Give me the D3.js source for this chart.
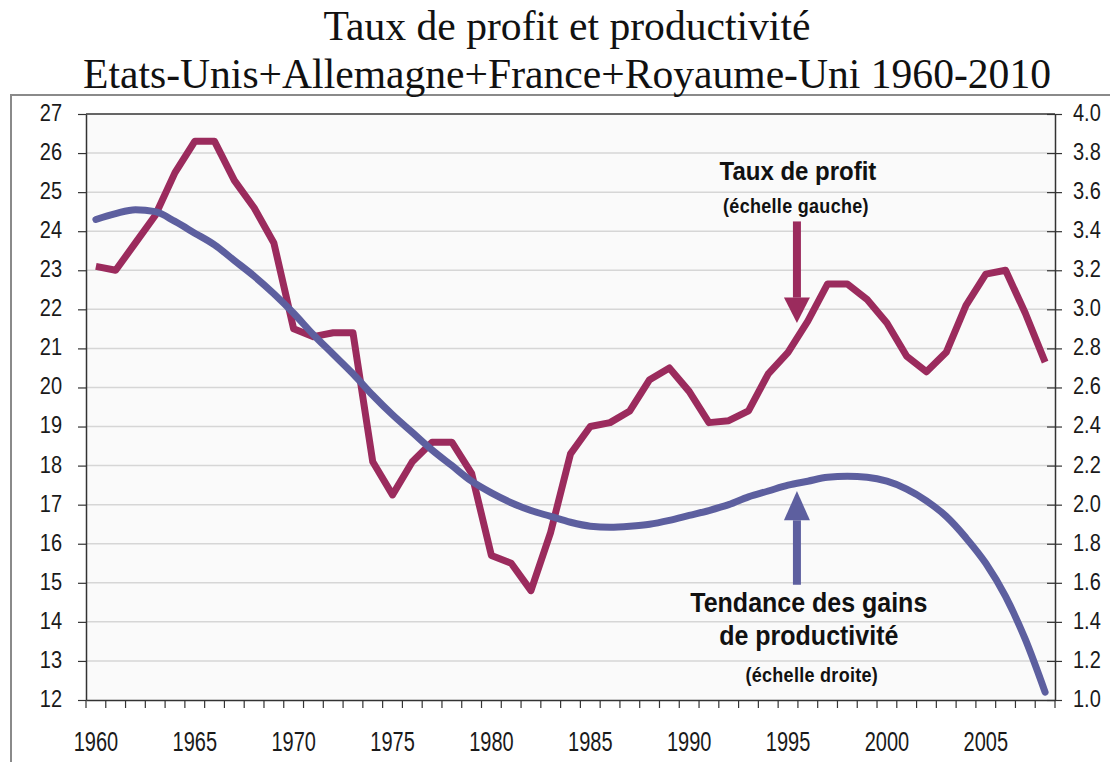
<!DOCTYPE html>
<html>
<head>
<meta charset="utf-8">
<script src="https://cdn.jsdelivr.net/npm/d3@7"></script>
<style>
  body { margin: 0; background: #fff; }
  svg { display: block; }
</style>
</head>
<body>
<svg id="chart" width="1110" height="762"></svg>
<script>
'use strict';

// categories: one point per year
var years = d3.range(1960, 2009);

// taux de profit (échelle gauche)
var profit = [
    23.1, 23.0, 23.7, 24.4, 25.5, 26.3, 26.3, 25.3, 24.6, 23.7,
    21.5, 21.3, 21.4, 21.4, 18.1, 17.25, 18.1, 18.6, 18.6, 17.8,
    15.7, 15.5, 14.8, 16.3, 18.3, 19.0, 19.1, 19.4, 20.2, 20.5,
    19.9, 19.1, 19.15, 19.4, 20.35, 20.9, 21.7, 22.65, 22.65, 22.25,
    21.65, 20.8, 20.4, 20.9, 22.1, 22.9, 23.0, 21.9, 20.65
];

// tendance des gains de productivité (échelle droite)
var productivity = [
    3.46, 3.49, 3.51, 3.50, 3.45, 3.39, 3.33, 3.25, 3.17, 3.08,
    2.98, 2.87, 2.77, 2.67, 2.56, 2.46, 2.37, 2.28, 2.20, 2.12,
    2.06, 2.01, 1.97, 1.94, 1.91, 1.89, 1.885, 1.89, 1.90, 1.92,
    1.945, 1.97, 2.00, 2.04, 2.07, 2.10, 2.12, 2.14, 2.145, 2.14,
    2.12, 2.08, 2.02, 1.94, 1.83, 1.70, 1.53, 1.31, 1.04
];

var leftTicks = d3.range(12, 28);
var rightTicks = d3.range(10, 41, 2).map(function (d) { return d / 10; });
var yearLabels = [1960, 1965, 1970, 1975, 1980, 1985, 1990, 1995, 2000, 2005];

var titleLines = [
    'Taux de profit et productivité',
    'Etats-Unis+Allemagne+France+Royaume-Uni 1960-2010'
];

var RED = '#9b2b5d',
    BLUE = '#5d5f9f';

var svg = d3.select('#chart');
var plot = { left: 86, right: 1055, top: 114, bottom: 700 };

var x = d3.scaleBand().domain(years).range([plot.left, plot.right]);
// continuous year position (centre of each band), used for annotations
var xYear = d3.scaleLinear()
    .domain([years[0], years[years.length - 1]])
    .range([x(years[0]) + x.bandwidth() / 2, x(years[years.length - 1]) + x.bandwidth() / 2]);
var yL = d3.scaleLinear().domain([12, 27]).range([plot.bottom, plot.top]);
var yR = d3.scaleLinear().domain([1, 4]).range([plot.bottom, plot.top]);

// outer frame
svg.append('rect')
    .attr('x', 11).attr('y', 95)
    .attr('width', 1120).attr('height', 700)
    .style('fill', '#fff')
    .style('stroke', '#8a8a8a')
    .style('stroke-width', 2);

// title
svg.append('g').selectAll('text')
    .data(titleLines)
    .enter().append('text')
    .attr('transform', function (d, i) {
        return 'translate(567,' + (40 + i * 48) + ') scale(1.04,1.06)';
    })
    .attr('text-anchor', 'middle')
    .style('font-family', '"Liberation Serif", "DejaVu Serif", serif')
    .style('font-size', '40px')
    .style('fill', '#111')
    .text(function (d) { return d; });

// plot background
svg.append('rect')
    .attr('x', plot.left).attr('y', plot.top)
    .attr('width', plot.right - plot.left).attr('height', plot.bottom - plot.top)
    .style('fill', '#fafafa');

// gridlines
svg.append('g').selectAll('line')
    .data(leftTicks.slice(1, -1))
    .enter().append('line')
    .attr('x1', plot.left).attr('x2', plot.right)
    .attr('y1', yL).attr('y2', yL)
    .style('stroke', '#d6d6d6')
    .style('stroke-width', 1.5);

svg.append('line')
    .attr('x1', plot.left).attr('x2', plot.right)
    .attr('y1', yL(27)).attr('y2', yL(27))
    .style('stroke', '#333')
    .style('stroke-width', 1.5);

function styleAxis(g) {
    g.select('.domain').style('stroke', '#333').style('stroke-width', 1.5);
    g.selectAll('.tick line').style('stroke', '#333').style('stroke-width', 1.2);
    g.selectAll('text')
        .style('font-family', '"Liberation Sans", Arial, sans-serif')
        .style('font-size', '20px')
        .style('fill', '#1a1a1a');
}

// left axis
var lAxis = svg.append('g')
    .attr('transform', 'translate(' + plot.left + ',0)')
    .call(d3.axisLeft(yL).tickValues(leftTicks).tickSize(8).tickPadding(16).tickSizeOuter(0))
    .call(styleAxis);
lAxis.selectAll('.tick text').attr('transform', 'scale(1,1.15)').attr('dy', '0.28em');

// right axis, ticks cross the line
var rAxis = svg.append('g')
    .attr('transform', 'translate(' + plot.right + ',0)')
    .call(d3.axisRight(yR).tickValues(rightTicks).tickFormat(d3.format('.1f')).tickSize(7).tickPadding(11).tickSizeOuter(0))
    .call(styleAxis);
rAxis.selectAll('.tick line').attr('x1', -8);
rAxis.selectAll('.tick text').attr('transform', 'scale(1,1.15)').attr('dy', '0.28em');

// bottom axis: labels every five years, small ticks between categories
var bAxis = svg.append('g')
    .attr('transform', 'translate(0,' + plot.bottom + ')')
    .call(d3.axisBottom(x).tickValues(yearLabels).tickSize(0).tickSizeOuter(0))
    .call(styleAxis);
bAxis.selectAll('.tick text')
    .attr('y', 0).attr('dy', 0)
    .attr('transform', 'translate(0,51) scale(1,1.35)');

var boundaries = years.map(function (d) { return x(d); }).concat([plot.right]);
bAxis.append('g').selectAll('line')
    .data(boundaries)
    .enter().append('line')
    .attr('x1', function (d) { return d; })
    .attr('x2', function (d) { return d; })
    .attr('y1', 0).attr('y2', 8)
    .style('stroke', '#333')
    .style('stroke-width', 1.2);

// series
var profitLine = d3.line()
    .x(function (d, i) { return x(years[i]) + x.bandwidth() / 2; })
    .y(function (d) { return yL(d); });

var prodLine = d3.line()
    .x(function (d, i) { return x(years[i]) + x.bandwidth() / 2; })
    .y(function (d) { return yR(d); })
    .curve(d3.curveMonotoneX);

svg.append('path')
    .datum(profit)
    .attr('d', profitLine)
    .style('fill', 'none')
    .style('stroke', RED)
    .style('stroke-width', 7)
    .style('stroke-linejoin', 'round');

svg.append('path')
    .datum(productivity)
    .attr('d', prodLine)
    .style('fill', 'none')
    .style('stroke', BLUE)
    .style('stroke-width', 7)
    .style('stroke-linecap', 'round');

// annotations (positions in data units)
var arrows = [
    { year: 1995.45, scale: yL, from: 24.25, base: 22.3, tip: 21.65, color: RED },
    { year: 1995.45, scale: yR, from: 1.59, base: 1.92, tip: 2.07, color: BLUE }
];

var notes = [
    { year: 1995.5, scale: yL, value: 25.3, text: 'Taux de profit', size: 24 },
    { year: 1995.4, scale: yL, value: 24.47, text: '(échelle gauche)', size: 18 },
    { year: 1996.05, scale: yR, value: 1.45, text: 'Tendance des gains', size: 25 },
    { year: 1996.05, scale: yR, value: 1.28, text: 'de productivité', size: 25 },
    { year: 1996.2, scale: yR, value: 1.09, text: '(échelle droite)', size: 18 }
];

var ann = svg.append('g');

arrows.forEach(function (a) {
    var cx = xYear(a.year);
    ann.append('line')
        .attr('x1', cx).attr('x2', cx)
        .attr('y1', a.scale(a.from)).attr('y2', a.scale(a.base))
        .style('stroke', a.color)
        .style('stroke-width', 8);
    ann.append('path')
        .attr('d', d3.line()([
            [cx - 13, a.scale(a.base)],
            [cx + 13, a.scale(a.base)],
            [cx, a.scale(a.tip)]
        ]) + 'Z')
        .style('fill', a.color);
});

ann.selectAll('text')
    .data(notes)
    .enter().append('text')
    .attr('transform', function (d) {
        return 'translate(' + xYear(d.year) + ',' + d.scale(d.value) + ') scale(1,1.1)';
    })
    .attr('text-anchor', 'middle')
    .style('font-family', '"Liberation Sans", Arial, sans-serif')
    .style('font-weight', 'bold')
    .style('font-size', function (d) { return d.size + 'px'; })
    .style('letter-spacing', function (d) { return d.size < 20 ? '0.3px' : '0'; })
    .style('fill', '#111')
    .text(function (d) { return d.text; });
</script>
</body>
</html>
